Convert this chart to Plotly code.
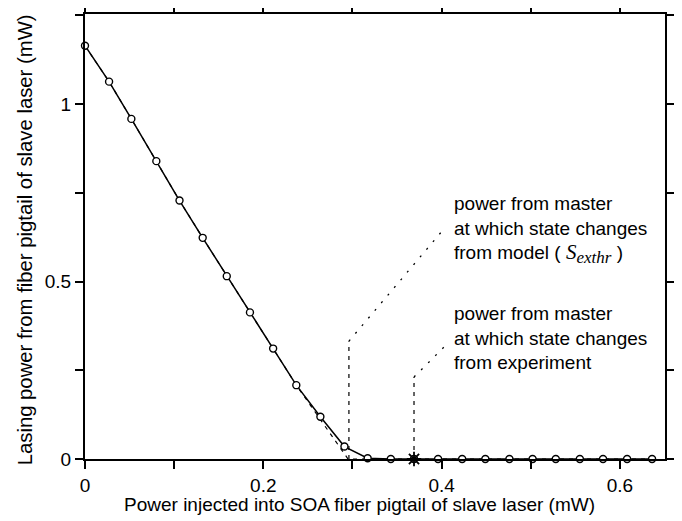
import plotly.graph_objects as go

# Measured data (mW)
x_meas = [0.000, 0.027, 0.052, 0.080, 0.106, 0.132, 0.159, 0.185, 0.211, 0.237,
          0.264, 0.291, 0.317, 0.343, 0.369, 0.396, 0.423, 0.449, 0.476, 0.502,
          0.528, 0.555, 0.581, 0.608, 0.636]
y_meas = [1.164, 1.063, 0.958, 0.839, 0.728, 0.623, 0.515, 0.413, 0.311, 0.208,
          0.119, 0.035, 0.002, 0.000, 0.000, 0.000, 0.000, 0.000, 0.000, 0.000,
          0.000, 0.000, 0.000, 0.000, 0.000]

# Model line (follows the data, then extrapolates linearly to threshold)
x_model = [0.000, 0.027, 0.052, 0.080, 0.106, 0.132, 0.159, 0.185, 0.211, 0.237,
           0.295, 0.636]
y_model = [1.164, 1.063, 0.958, 0.839, 0.728, 0.623, 0.515, 0.413, 0.311, 0.208,
           0.000, 0.000]

# Threshold markers
s_exthr_model = 0.296
s_exthr_exp = 0.369

x_ticks = [0, 0.2, 0.4, 0.6]
x_ticktext = ["0", "0.2", "0.4", "0.6"]
x_minor = [0.1, 0.3, 0.5]
y_ticks = [0, 0.5, 1.0]
y_ticktext = ["0", "0.5", "1"]
y_minor = [0.25, 0.75, 1.25]

FONT = "Liberation Sans, Arial, Helvetica, sans-serif"
FS = 19

fig = go.Figure()

# model dashed line
fig.add_trace(go.Scatter(x=x_model, y=y_model, mode="lines",
                         line=dict(color="black", width=1.2, dash="4px,5px"),
                         showlegend=False, hoverinfo="skip", cliponaxis=False))

# vertical dashed markers
fig.add_trace(go.Scatter(x=[s_exthr_model, s_exthr_model], y=[0, 0.332], mode="lines",
                         line=dict(color="black", width=1.2, dash="4px,5px"),
                         showlegend=False, cliponaxis=False))
fig.add_trace(go.Scatter(x=[s_exthr_exp, s_exthr_exp], y=[0, 0.231], mode="lines",
                         line=dict(color="black", width=1.2, dash="4px,5px"),
                         showlegend=False, cliponaxis=False))
# diagonal leaders
fig.add_trace(go.Scatter(x=[s_exthr_model, 0.4015], y=[0.332, 0.645], mode="lines",
                         line=dict(color="black", width=1.3, dash="2px,8px"),
                         showlegend=False, cliponaxis=False))
fig.add_trace(go.Scatter(x=[s_exthr_exp, 0.4085], y=[0.231, 0.330], mode="lines",
                         line=dict(color="black", width=1.3, dash="2px,8px"),
                         showlegend=False, cliponaxis=False))

# measured line with open circles
fig.add_trace(go.Scatter(x=x_meas, y=y_meas, mode="lines+markers",
                         line=dict(color="black", width=1.5),
                         marker=dict(symbol="circle", size=7, color="white",
                                     line=dict(color="black", width=1.4)),
                         showlegend=False, cliponaxis=False))

# experimental threshold star
fig.add_trace(go.Scatter(x=[s_exthr_exp], y=[0], mode="markers",
                         marker=dict(symbol="asterisk-open", size=12, color="black",
                                     line=dict(color="black", width=1.8)),
                         showlegend=False, cliponaxis=False))

axis_common = dict(ticks="outside", ticklen=8, tickwidth=1.5, tickcolor="black",
                   showline=True, linecolor="black", linewidth=2, mirror="ticks",
                   showgrid=False, zeroline=False, automargin=False,
                   tickfont=dict(family=FONT, size=FS, color="black"))
fig.update_xaxes(range=[0, 0.6505], tickvals=x_ticks, ticktext=x_ticktext,
                 minor=dict(tickvals=x_minor, ticks="outside", ticklen=8, tickwidth=1.5,
                            tickcolor="black", showgrid=False),
                 **axis_common)
fig.update_yaxes(range=[0, 1.2535], tickvals=y_ticks, ticktext=y_ticktext,
                 minor=dict(tickvals=y_minor, ticks="outside", ticklen=8, tickwidth=1.5,
                            tickcolor="black", showgrid=False),
                 **axis_common)

ann_font = dict(family=FONT, size=FS, color="black")
fig.add_annotation(x=0.4112, y=0.645, xref="x", yref="y", xanchor="left", yanchor="middle",
                   align="left", showarrow=False, font=ann_font,
                   text="power from master<br>at which state changes<br>from model ( "
                        "<span style=\"font-family:'Liberation Serif';font-size:21px\"><i>S</i></span>"
                        "<sub><span style=\"font-family:'Liberation Serif';font-size:17px\"><i>exthr</i></span></sub> )")
fig.add_annotation(x=0.4112, y=0.341, xref="x", yref="y", xanchor="left", yanchor="middle",
                   align="left", showarrow=False, font=ann_font,
                   text="power from master<br>at which state changes<br>from experiment")

# axis titles
fig.add_annotation(x=0.474, y=-0.103, xref="paper", yref="paper", xanchor="center",
                   yanchor="middle", showarrow=False, font=ann_font,
                   text="Power injected into SOA fiber pigtail of slave laser (mW)")
fig.add_annotation(x=-0.103, y=0.492, xref="paper", yref="paper", xanchor="center",
                   yanchor="middle", showarrow=False,
                   font=dict(family=FONT, size=20.3, color="black"), textangle=-90,
                   text="Lasing power from fiber pigtail of slave laser (mW)")

# page body has an 8px default margin, so the figure is 8px smaller than the window
fig.update_layout(width=674, height=513, margin=dict(l=77, r=17, t=6, b=62),
                  paper_bgcolor="white", plot_bgcolor="white",
                  font=dict(family=FONT, size=FS, color="black"))

fig.write_html("out.html")
